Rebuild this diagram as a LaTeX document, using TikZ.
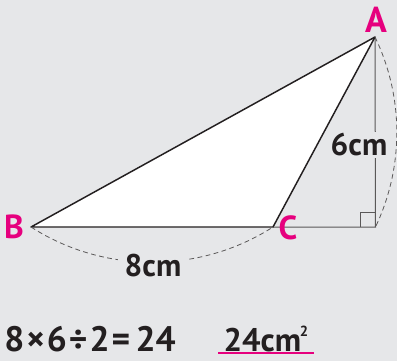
\documentclass[tikz,border=0pt]{standalone}
\usepackage{fontspec}
\setmainfont{PT Sans}
\definecolor{bg}{HTML}{E6E7E9}
\definecolor{mag}{HTML}{E6007E}
\definecolor{ink}{HTML}{231F20}
\definecolor{gline}{HTML}{5A5858}
\begin{document}
\begin{tikzpicture}[x=0.75pt,y=-0.75pt,
  vlabel/.style={text=mag,font=\fontsize{25}{25}\selectfont\bfseries,inner sep=0pt},
  meas/.style={text=ink,font=\fontsize{23.5}{23.5}\selectfont\bfseries,inner sep=0pt},
  tri/.style={draw=ink,line width=1.1pt,fill=white,line join=round},
  aux/.style={draw=gline,line width=0.75pt},
  arcd/.style={draw=gline,line width=0.6pt,dash pattern=on 3.6pt off 2.6pt},
  eq/.style={text=ink,font=\fontsize{26.5}{26.5}\selectfont\bfseries,inner sep=0pt}]
\fill[bg] (0,0) rectangle (397,361);
\useasboundingbox (0,0) rectangle (397,361);
\coordinate (A) at (375,37);
\coordinate (B) at (31,227);
\coordinate (C) at (273,227);
\coordinate (D) at (375.5,227);
% extension and altitude
\draw[aux] (C) -- (D) -- (A);
\draw[aux] (360.5,227) -- (360.5,212) -- (375.5,212);
% triangle
\draw[tri] (A) -- (B) -- (C) -- cycle;
% dashed arcs
\draw[arcd] (B) .. controls (104,274) and (200,274) .. (C);
\draw[arcd] (A) .. controls (404,97) and (404,167) .. (D);
% labels
\node[meas,fill=bg,inner xsep=5pt,inner ysep=2pt] (l8) at (153,266) {8cm};
\node[meas,fill=bg,inner xsep=1pt,inner ysep=1pt] (l6) at (359,145) {6cm};
\node[vlabel,font=\fontsize{27}{27}\selectfont\bfseries] (la) at (376,20) {A};
\node[vlabel] (lb) at (14,227) {B};
\node[vlabel] (lc) at (288,228) {C};
% equation
\node[eq,anchor=west] (eqn) at (4,339) {8\hspace{1.5pt}×\hspace{1.5pt}6\hspace{1.5pt}÷\hspace{1.5pt}2\hspace{1.5pt}=\hspace{4pt}24};
\node[eq,anchor=west,inner xsep=4pt,font=\fontsize{24.5}{24.5}\selectfont\bfseries] (ans) at (218,339) {24cm\hspace{-1pt}\raisebox{0.45em}{\fontsize{11}{11}\selectfont 2}};
\draw[mag,line width=1.5pt] (ans.west |- 0,353) -- (ans.east |- 0,353);
\end{tikzpicture}
\end{document}
